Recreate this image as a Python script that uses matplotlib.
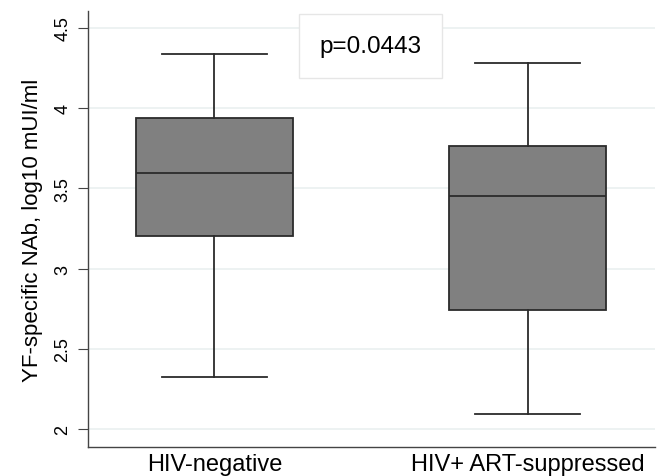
import matplotlib
matplotlib.use("Agg")
import matplotlib.pyplot as plt

# group summaries (log10 mUI/ml)
groups = ["HIV-negative", "HIV+ ART-suppressed"]
whislo = [2.325, 2.092]
q1 = [3.206, 2.744]
med = [3.597, 3.454]
q3 = [3.942, 3.767]
whishi = [4.341, 4.281]
yticks = [2, 2.5, 3, 3.5, 4, 4.5]
ytick_labels = ["2", "2.5", "3", "3.5", "4", "4.5"]
p_text = "p=0.0443"

plt.rcParams["font.family"] = ["Liberation Sans", "DejaVu Sans"]

fig = plt.figure(figsize=(6.6, 4.77), dpi=100)
ax = fig.add_axes([0.1333, 0.0608, 0.8591, 0.914])

stats = [dict(label=g, whislo=lo, q1=a, med=m, q3=b, whishi=hi, fliers=[])
         for g, lo, a, m, b, hi in zip(groups, whislo, q1, med, q3, whishi)]

edge = "#2b2b2b"
ax.bxp(stats, positions=[1, 2], widths=0.5, capwidths=0.335,
       patch_artist=True, showfliers=False,
       boxprops=dict(facecolor="#808080", edgecolor=edge, linewidth=1.3),
       medianprops=dict(color=edge, linewidth=1.3),
       whiskerprops=dict(color=edge, linewidth=1.3),
       capprops=dict(color=edge, linewidth=1.3))

ax.set_xlim(0.596, 2.407)
ax.set_ylim(1.888, 4.606)
ax.set_yticks(yticks)
ax.set_yticklabels(ytick_labels, rotation=90, va="center", fontsize=13)
ax.set_xticks([1, 2])
ax.set_xticklabels(groups, fontsize=17)
ax.tick_params(axis="x", length=0, pad=4)
ax.tick_params(axis="y", length=7, width=0.8, color="#444444", pad=5)
ax.set_ylabel("YF-specific NAb, log10 mUI/ml", fontsize=16, labelpad=8)

ax.grid(axis="y", color="#eaf0f0", linewidth=1.2)
ax.set_axisbelow(True)
for s in ["top", "right"]:
    ax.spines[s].set_visible(False)
for s in ["left", "bottom"]:
    ax.spines[s].set_color("#444444")
    ax.spines[s].set_linewidth(1.0)

ax.text(0.498, 0.92, p_text, transform=ax.transAxes, ha="center", va="center",
        fontsize=17.5, zorder=10,
        bbox=dict(boxstyle="square,pad=0.85", facecolor="white",
                  edgecolor="#e6e6e6", linewidth=1.0))

fig.savefig("out.png", dpi=100)
